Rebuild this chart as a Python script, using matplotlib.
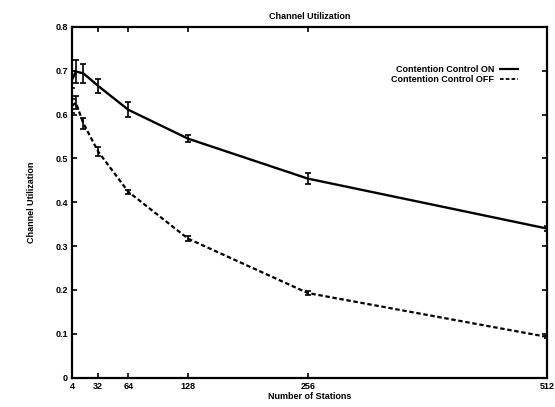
import matplotlib
matplotlib.use("Agg")
import matplotlib.pyplot as plt
from matplotlib.lines import Line2D

# data
stations = [4, 8, 16, 32, 64, 128, 256, 512]

util_on = [0.680, 0.698, 0.694, 0.665, 0.611, 0.545, 0.454, 0.340]
err_on = [0.020, 0.026, 0.022, 0.016, 0.017, 0.008, 0.012, 0.005]

util_off = [0.620, 0.627, 0.580, 0.515, 0.424, 0.317, 0.193, 0.093]
err_off = [0.016, 0.015, 0.012, 0.010, 0.005, 0.005, 0.004, 0.003]

xticks = [4, 32, 64, 128, 256, 512]
yticks = [0, 0.1, 0.2, 0.3, 0.4, 0.5, 0.6, 0.7, 0.8]

plt.rcParams['font.family'] = ['Liberation Sans', 'DejaVu Sans']
plt.rcParams['font.weight'] = 'bold'

fig = plt.figure(figsize=(5.55, 4.07), dpi=100)
ax = fig.add_axes([0.130, 0.072, 0.856, 0.862])

off_style = (0, (2, 1.2))

ax.errorbar(stations, util_on, yerr=err_on, color='black', linewidth=1.7,
            elinewidth=1.2, capsize=2.5, capthick=1.2)
ax.errorbar(stations, util_off, yerr=err_off, color='black', linewidth=1.6,
            linestyle=off_style, elinewidth=1.2, capsize=2.5, capthick=1.2)

ax.set_xlim(4, 512)
ax.set_ylim(0, 0.8)
ax.set_xticks(xticks)
ax.set_xticklabels([str(t) for t in xticks])
ax.set_yticks(yticks)
ax.set_yticklabels(['0' if t == 0 else '%.1f' % t for t in yticks])

ax.tick_params(direction='in', top=True, right=True, length=3.5, width=1.2,
               labelsize=6.5, pad=3)
for s in ax.spines.values():
    s.set_linewidth(1.6)

ax.set_title('Channel Utilization', fontsize=6.5, fontweight='bold', pad=6)
ax.set_xlabel('Number of Stations', fontsize=6.5, fontweight='bold', labelpad=1)
ax.set_ylabel('Channel Utilization', fontsize=6.5, fontweight='bold', labelpad=14)

handles = [Line2D([], [], color='black', linewidth=1.6),
           Line2D([], [], color='black', linewidth=1.3, linestyle=off_style)]
labels = ['Contention Control ON', 'Contention Control OFF']
leg = ax.legend(handles, labels, loc='upper right', bbox_to_anchor=(0.955, 0.915),
                frameon=False, markerfirst=False, fontsize=6.5, handlelength=2.0,
                handletextpad=0.6, labelspacing=0.1)
for t in leg.get_texts():
    t.set_fontweight('bold')

fig.savefig('out.png', dpi=100)
